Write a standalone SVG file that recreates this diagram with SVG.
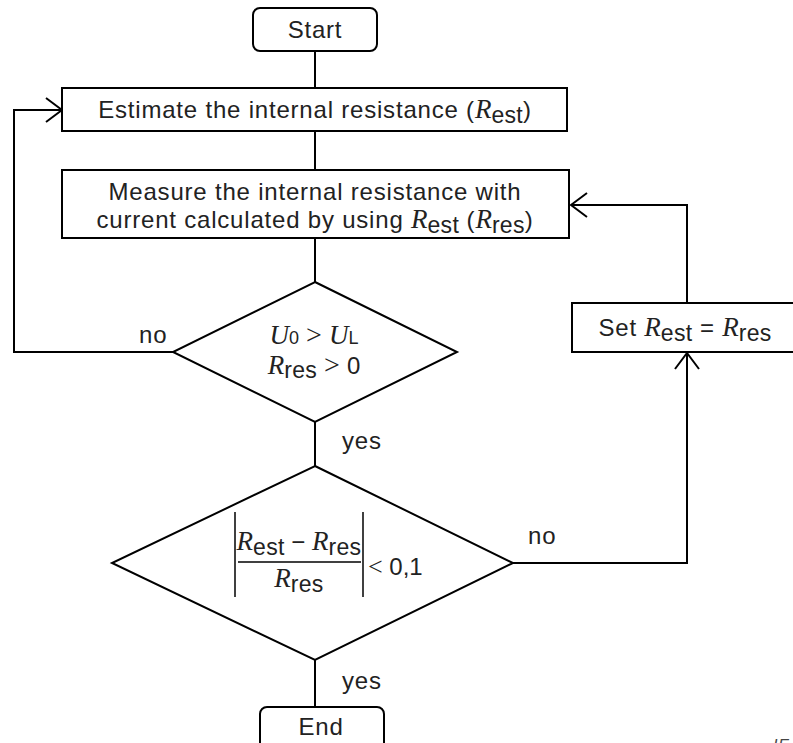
<svg xmlns="http://www.w3.org/2000/svg" width="793" height="743" viewBox="0 0 793 743">
<style>
.box{fill:#fff;stroke:#000;stroke-width:2}
.ln{fill:none;stroke:#000;stroke-width:2}
text{font-family:"Liberation Sans",Arial,sans-serif;font-size:24px;letter-spacing:0.8px;fill:#222}
.r{font-family:"Liberation Serif","Times New Roman",serif;font-style:italic;font-size:27px;letter-spacing:0}
.s{font-family:"Liberation Serif","Times New Roman",serif;font-size:28px;letter-spacing:0}
.sub{font-size:23px;letter-spacing:0.3px}
.sub2{font-size:18px}
.m{letter-spacing:0}
</style>
<defs>
<marker id="ah" viewBox="0 0 18 26" refX="17" refY="13" markerWidth="18" markerHeight="26" markerUnits="userSpaceOnUse" orient="auto">
<path d="M1,1 L17,13 L1,25" fill="none" stroke="#000" stroke-width="2"/>
</marker>
</defs>
<g id="connectors">
<line class="ln" x1="315" y1="51" x2="315" y2="88"/>
<line class="ln" x1="315" y1="131" x2="315" y2="170"/>
<line class="ln" x1="315" y1="238" x2="315" y2="282"/>
<line class="ln" x1="315" y1="422" x2="315" y2="466"/>
<line class="ln" x1="315" y1="660" x2="315" y2="707"/>
<polyline class="ln" points="173,352 14,352 14,110 62,110" marker-end="url(#ah)"/>
<polyline class="ln" points="513,563 687,563 687,353" marker-end="url(#ah)"/>
<polyline class="ln" points="687,303 687,205 571,205" marker-end="url(#ah)"/>
<text x="139" y="343">no</text>
<text x="342" y="449">yes</text>
<text x="528" y="544">no</text>
<text x="342" y="689">yes</text>
</g>
<g id="start">
<rect class="box" x="253" y="8" width="124" height="43" rx="7"/>
<text x="315" y="38" text-anchor="middle">Start</text>
</g>
<g id="estimate">
<rect class="box" x="62" y="88" width="505" height="43"/>
<text x="315" y="118" text-anchor="middle">Estimate the internal resistance (<tspan class="r">R</tspan><tspan class="sub" dy="5">est</tspan><tspan dy="-5">)</tspan></text>
</g>
<g id="measure">
<rect class="box" x="62" y="170" width="507" height="68"/>
<text x="315" y="200" text-anchor="middle">Measure the internal resistance with</text>
<text x="315" y="228" text-anchor="middle">current calculated by using <tspan class="r">R</tspan><tspan class="sub" dy="5">est</tspan><tspan dy="-5"> (</tspan><tspan class="r">R</tspan><tspan class="sub" dy="5">res</tspan><tspan dy="-5">)</tspan></text>
</g>
<g id="decision1">
<polygon class="box" points="315,282 457,352 315,422 173,352"/>
<text x="314" y="344" text-anchor="middle" class="m"><tspan class="r">U</tspan><tspan class="sub2">0</tspan><tspan class="s"> &gt; </tspan><tspan class="r">U</tspan><tspan class="sub2">L</tspan></text>
<text x="314" y="374" text-anchor="middle" class="m"><tspan class="r">R</tspan><tspan class="sub" dy="4">res</tspan><tspan class="s" dy="-4"> &gt; </tspan>0</text>
</g>
<g id="decision2">
<polygon class="box" points="315,466 513,563 315,660 112,563"/>
<line class="ln" x1="235" y1="512" x2="235" y2="597" style="stroke-width:1.5"/>
<line class="ln" x1="363" y1="512" x2="363" y2="597" style="stroke-width:1.5"/>
<line class="ln" x1="238" y1="562" x2="361" y2="562" style="stroke-width:1.5"/>
<text x="299" y="550" text-anchor="middle" class="m"><tspan class="r">R</tspan><tspan class="sub" dy="5">est</tspan><tspan dy="-5"> − </tspan><tspan class="r">R</tspan><tspan class="sub" dy="5">res</tspan></text>
<text x="299" y="587" text-anchor="middle" class="m"><tspan class="r">R</tspan><tspan class="sub" dy="5">res</tspan></text>
<text x="368" y="575" class="m"><tspan class="s" style="font-size:26px">&lt;</tspan> 0,1</text>
</g>
<g id="set">
<rect class="box" x="572" y="303" width="230" height="49"/>
<text x="685" y="336" text-anchor="middle">Set <tspan class="r">R</tspan><tspan class="sub" dy="5">est</tspan><tspan dy="-5"> = </tspan><tspan class="r">R</tspan><tspan class="sub" dy="5">res</tspan></text>
</g>
<g id="end">
<rect class="box" x="260" y="707" width="124" height="50" rx="7"/>
<text x="321" y="735" text-anchor="middle">End</text>
</g>
<text x="773" y="751" style="font-size:16px;font-style:italic;fill:#444">IE</text>
</svg>
